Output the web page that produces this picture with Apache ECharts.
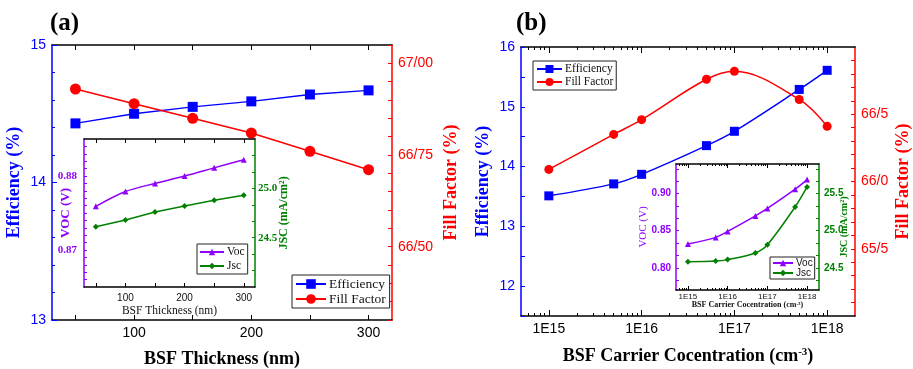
<!DOCTYPE html>
<html>
<head>
<meta charset="utf-8">
<script src="https://cdn.jsdelivr.net/npm/echarts@6/dist/echarts.min.js"></script>
<style>
  html, body { margin: 0; padding: 0; background: #fff; }
  #chart { width: 913px; height: 369px; }
</style>
</head>
<body>
<div id="chart"></div>
<script>
// ---- Panel (a): back-surface-field thickness sweep ----
const thickness = [50, 100, 150, 200, 250, 300];                    // nm
const efficiencyA = [14.43, 14.50, 14.55, 14.59, 14.64, 14.67];      // %
const fillFactorA = [66.93, 66.89, 66.85, 66.81, 66.76, 66.71];      // %
const vocA = [0.8759, 0.8779, 0.8790, 0.8800, 0.8811, 0.8822];       // V
const jscA = [24.61, 24.68, 24.76, 24.82, 24.88, 24.93];             // mA/cm2
const thicknessTickLabels = [100, 200, 300];

// ---- Panel (b): back-surface-field doping sweep ----
const concentration = [1e15, 5e15, 1e16, 5e16, 1e17, 5e17, 1e18];    // cm-3
const efficiencyB = [13.51, 13.71, 13.87, 14.35, 14.59, 15.29, 15.61];
const fillFactorB = [66.09, 66.35, 66.46, 66.76, 66.82, 66.61, 66.41];
const vocB = [0.832, 0.841, 0.849, 0.870, 0.880, 0.906, 0.919];
const jscB = [24.58, 24.59, 24.61, 24.70, 24.81, 25.32, 25.59];
const decadeTickLabels = [15, 16, 17, 18];                            // exponents shown as 1E..

const BLUE = '#0000ff', RED = '#ff0000', PURPLE = '#8f00ff', GREEN = '#008000', BLACK = '#000000';
const SERIF = '"Liberation Serif", "Times New Roman", serif';
const SANS = '"Liberation Sans", Arial, sans-serif';

// tick positions helpers
function steps(from, to, step) {
  const out = [];
  for (let v = from; v <= to + step * 1e-6; v += step) out.push(+v.toFixed(6));
  return out;
}
const logMin = 14.7, logMax = 18.3;
const logMinorTicks = [];
for (let n = 14; n <= 18; n++) {
  for (let k = 2; k <= 9; k++) {
    const v = n + Math.log10(k);
    if (v > logMin && v < logMax) logMinorTicks.push(v);
  }
}
const logMajorTicks = decadeTickLabels.slice();
const slashFmt = (digits) => (v) => v.toFixed(digits).replace('.', '/');

function axisBase(color, width) {
  return {
    type: 'value',
    splitLine: { show: false },
    axisLine: { show: true, onZero: false, lineStyle: { color: color, width: width } },
    axisTick: { show: true, inside: true, length: 5, lineStyle: { color: color, width: 1 } },
    nameLocation: 'middle',
    nameMoveOverlap: false
  };
}
function merge(a, b) {
  const out = Object.assign({}, a);
  for (const k in b) {
    if (b[k] && typeof b[k] === 'object' && !Array.isArray(b[k]) && a[k] && typeof a[k] === 'object') {
      out[k] = merge(a[k], b[k]);
    } else out[k] = b[k];
  }
  return out;
}
function titleStyle(color, size, weight, family) {
  return { color: color, fontSize: size, fontWeight: weight || 'bold', fontFamily: family || SERIF };
}
function supName(text, sup, size, weight, family, color) {
  return {
    name: '{t|' + text + '}{s|' + sup + '}{t|)}',
    nameTextStyle: {
      rich: {
        t: { fontSize: size, fontWeight: weight, fontFamily: family, color: color },
        s: { fontSize: Math.round(size * 0.62), fontWeight: weight, fontFamily: family, color: color, verticalAlign: 'top' }
      }
    }
  };
}

const grids = [
  { left: 52, top: 45, width: 340, height: 275 },                       // (a) main
  { left: 84, top: 139, width: 171, height: 148, z: 3 },                // (a) inset
  { left: 521, top: 47, width: 334, height: 269 },                      // (b) main
  { left: 676, top: 164, width: 143, height: 126, z: 3 }                // (b) inset
].map(g => Object.assign({ show: !!g.z, backgroundColor: '#fff', borderWidth: 0, containLabel: false, outerBoundsMode: 'none' }, g));

const xAxes = [
  // 0: (a) main bottom
  merge(axisBase(BLACK, 1.5), {
    gridIndex: 0, position: 'bottom', min: 30, max: 320,
    axisTick: { customValues: thickness },
    axisLabel: { customValues: thicknessTickLabels, color: BLACK, fontSize: 14, fontFamily: SANS, margin: 6 },
    name: 'BSF Thickness (nm)', nameGap: 30, nameTextStyle: titleStyle(BLACK, 18)
  }),
  // 1: (a) main top
  merge(axisBase(BLACK, 1.5), {
    gridIndex: 0, position: 'top', min: 30, max: 320,
    axisTick: { customValues: thickness }, axisLabel: { show: false }
  }),
  // 2: (a) inset bottom
  merge(axisBase(BLACK, 1.5), {
    gridIndex: 1, position: 'bottom', min: 30, max: 319, z: 4,
    axisTick: { customValues: thickness, length: 4 },
    axisLabel: { customValues: thicknessTickLabels, color: '#111', fontSize: 10, fontFamily: SANS, margin: 6 },
    name: 'BSF Thickness (nm)', nameGap: 18, nameTextStyle: titleStyle('#111', 11.5, 'normal')
  }),
  // 3: (a) inset top
  merge(axisBase(BLACK, 1.5), {
    gridIndex: 1, position: 'top', min: 30, max: 319, z: 4,
    axisTick: { customValues: thickness, length: 4 }, axisLabel: { show: false }
  }),
  // 4: (b) main bottom, decades
  merge(axisBase(BLACK, 1.5), Object.assign({
    gridIndex: 2, position: 'bottom', min: logMin, max: logMax,
    axisTick: { customValues: logMajorTicks, length: 6 },
    axisLabel: { customValues: decadeTickLabels, formatter: v => '1E' + Math.round(v), color: BLACK, fontSize: 14, fontFamily: SANS, margin: 6 },
    nameGap: 31
  }, supName('BSF Carrier Cocentration (cm', '-3', 18, 'bold', SERIF, BLACK))),
  // 5: (b) main bottom, minor
  merge(axisBase(BLACK, 1.5), {
    gridIndex: 2, position: 'bottom', min: logMin, max: logMax,
    axisLine: { show: false }, axisTick: { customValues: logMinorTicks, length: 3 }, axisLabel: { show: false }
  }),
  // 6: (b) main top, decades
  merge(axisBase(BLACK, 1.5), {
    gridIndex: 2, position: 'top', min: logMin, max: logMax,
    axisTick: { customValues: logMajorTicks, length: 6 }, axisLabel: { show: false }
  }),
  // 7: (b) main top, minor
  merge(axisBase(BLACK, 1.5), {
    gridIndex: 2, position: 'top', min: logMin, max: logMax,
    axisLine: { show: false }, axisTick: { customValues: logMinorTicks, length: 3 }, axisLabel: { show: false }
  }),
  // 8: (b) inset bottom, decades
  merge(axisBase(BLACK, 1.5), Object.assign({
    gridIndex: 3, position: 'bottom', min: logMin, max: logMax, z: 4,
    axisTick: { customValues: logMajorTicks, length: 4 },
    axisLabel: { customValues: decadeTickLabels, formatter: v => '1E' + Math.round(v), color: '#111', fontSize: 8, fontFamily: SANS, margin: 3 },
    nameGap: 11
  }, supName('BSF Carrier Cocentration (cm', '-3', 8, 'bold', SERIF, '#111'))),
  // 9: (b) inset bottom, minor
  merge(axisBase(BLACK, 1.5), {
    gridIndex: 3, position: 'bottom', min: logMin, max: logMax, z: 4,
    axisLine: { show: false }, axisTick: { customValues: logMinorTicks, length: 2 }, axisLabel: { show: false }
  }),
  // 10: (b) inset top, decades
  merge(axisBase(BLACK, 1.5), {
    gridIndex: 3, position: 'top', min: logMin, max: logMax, z: 4,
    axisTick: { customValues: logMajorTicks, length: 4 }, axisLabel: { show: false }
  }),
  // 11: (b) inset top, minor
  merge(axisBase(BLACK, 1.5), {
    gridIndex: 3, position: 'top', min: logMin, max: logMax, z: 4,
    axisLine: { show: false }, axisTick: { customValues: logMinorTicks, length: 2 }, axisLabel: { show: false }
  })
];

const yAxes = [
  // 0: (a) efficiency
  merge(axisBase(BLUE, 1.5), {
    gridIndex: 0, position: 'left', min: 13, max: 15, interval: 1,
    minorTick: { show: true, splitNumber: 5, length: 3, lineStyle: { color: BLUE } },
    axisLabel: { color: BLUE, fontSize: 14, fontFamily: SANS, margin: 6 },
    name: 'Efficiency (%)', nameRotate: 90, nameGap: 29, nameTextStyle: titleStyle(BLUE, 18)
  }),
  // 1: (a) fill factor
  merge(axisBase(RED, 1.5), {
    gridIndex: 0, position: 'right', min: 66.3, max: 67.05,
    axisTick: { customValues: steps(66.3, 67.05, 0.05), length: 4 },
    axisLabel: { customValues: [66.5, 66.75, 67.0], formatter: slashFmt(2), color: RED, fontSize: 14, fontFamily: SANS, margin: 6 },
    name: 'Fill Factor (%)', nameRotate: 90, nameGap: 50, nameTextStyle: titleStyle(RED, 18)
  }),
  // 2: (a) inset Voc
  merge(axisBase(PURPLE, 1.5), {
    gridIndex: 1, position: 'left', min: 0.865, max: 0.885, z: 4,
    axisTick: { customValues: steps(0.866, 0.884, 0.001), length: 3 },
    axisLabel: { customValues: [0.87, 0.88], formatter: v => v.toFixed(2), color: PURPLE, fontSize: 11, fontWeight: 'bold', fontFamily: SERIF, margin: 7 },
    name: 'VOC (V)', nameRotate: 90, nameGap: 12, nameTextStyle: titleStyle(PURPLE, 13)
  }),
  // 3: (a) inset Jsc
  merge(axisBase(GREEN, 1.5), {
    gridIndex: 1, position: 'right', min: 24.0, max: 25.5, z: 4,
    axisTick: { customValues: steps(24.0 + 0.5 / 3, 25.4, 0.5 / 3), length: 3 },
    axisLabel: { customValues: [24.5, 25.0], formatter: v => v.toFixed(1), color: GREEN, fontSize: 11, fontWeight: 'bold', fontFamily: SERIF, margin: 3 },
    name: 'JSC (mA/cm²)', nameRotate: 90, nameGap: 23, nameTextStyle: titleStyle(GREEN, 12)
  }),
  // 4: (b) efficiency
  merge(axisBase(BLUE, 1.5), {
    gridIndex: 2, position: 'left', min: 11.5, max: 16, interval: 0.5,
    axisTick: { length: 4 },
    axisLabel: { customValues: [12, 13, 14, 15, 16], color: BLUE, fontSize: 14, fontFamily: SANS, margin: 6 },
    name: 'Efficiency (%)', nameRotate: 90, nameGap: 29, nameTextStyle: titleStyle(BLUE, 18)
  }),
  // 5: (b) fill factor
  merge(axisBase(RED, 1.5), {
    gridIndex: 2, position: 'right', min: 65, max: 67,
    axisTick: { customValues: steps(65.1, 66.9, 0.1), length: 4 },
    axisLabel: { customValues: [65.5, 66.0, 66.5], formatter: slashFmt(1), color: RED, fontSize: 14, fontFamily: SANS, margin: 6 },
    name: 'Fill Factor (%)', nameRotate: 90, nameGap: 39, nameTextStyle: titleStyle(RED, 18)
  }),
  // 6: (b) inset Voc
  merge(axisBase(PURPLE, 1.5), {
    gridIndex: 3, position: 'left', min: 0.77, max: 0.94, z: 4,
    axisTick: { customValues: steps(0.8 - 0.05 / 3, 0.94, 0.05 / 3), length: 3 },
    axisLabel: { customValues: [0.80, 0.85, 0.90], formatter: v => v.toFixed(2), color: PURPLE, fontSize: 10, fontWeight: 'bold', fontFamily: SANS, margin: 5 },
    name: 'VOC (V)', nameRotate: 90, nameGap: 27, nameTextStyle: titleStyle(PURPLE, 11, 'normal')
  }),
  // 7: (b) inset Jsc
  merge(axisBase(GREEN, 1.5), {
    gridIndex: 3, position: 'right', min: 24.2, max: 25.9, z: 4,
    axisTick: { customValues: steps(24.5 - 0.5 / 3, 25.9, 0.5 / 3), length: 3 },
    axisLabel: { customValues: [24.5, 25.0, 25.5], formatter: v => v.toFixed(1), color: GREEN, fontSize: 10, fontWeight: 'bold', fontFamily: SANS, margin: 5 },
    name: 'JSC (mA/cm²)', nameRotate: 90, nameGap: 20, nameTextStyle: titleStyle(GREEN, 10)
  })
];

function lineSeries(name, xs, ys, xi, yi, color, symbol, size, smooth, z) {
  return {
    name: name, type: 'line', xAxisIndex: xi, yAxisIndex: yi,
    data: xs.map((x, i) => [x, ys[i]]),
    symbol: symbol, symbolSize: size, smooth: smooth || false,
    lineStyle: { color: color, width: 1.5 }, itemStyle: { color: color },
    z: z || 2, animation: false
  };
}
const logConc = concentration.map(c => Math.log10(c));

const series = [
  lineSeries('Efficiency', thickness, efficiencyA, 0, 0, BLUE, 'rect', 10),
  lineSeries('Fill Factor', thickness, fillFactorA, 0, 1, RED, 'circle', 11),
  lineSeries('Voc', thickness, vocA, 2, 2, PURPLE, 'triangle', 6, 0.3, 5),
  lineSeries('Jsc', thickness, jscA, 2, 3, GREEN, 'diamond', 6, false, 5),
  lineSeries('Efficiency', logConc, efficiencyB, 4, 4, BLUE, 'rect', 9, 0.35),
  lineSeries('Fill Factor', logConc, fillFactorB, 4, 5, RED, 'circle', 9, 0.35),
  lineSeries('Voc', logConc, vocB, 8, 6, PURPLE, 'triangle', 6, 0.3, 5),
  lineSeries('Jsc', logConc, jscB, 8, 7, GREEN, 'diamond', 6, 0.3, 5)
];

function legendBox(names, left, top, font, size, iconW, iconH, gap, pad) {
  return {
    data: names, left: left, top: top, orient: 'vertical', selectedMode: false,
    itemWidth: iconW, itemHeight: iconH, itemGap: gap, padding: pad,
    borderColor: '#222', borderWidth: 1, backgroundColor: '#fff', z: 6,
    textStyle: { fontFamily: font, fontSize: size, color: '#111', padding: [0, 0, 0, -2] }
  };
}

const option = {
  animation: false,
  backgroundColor: '#fff',
  grid: grids,
  xAxis: xAxes,
  yAxis: yAxes,
  series: series,
  legend: [
    legendBox(['Efficiency', 'Fill Factor'], 292, 275, SERIF, 13.5, 30, 12, 1, [2, 4, 2, 3]),
    legendBox(['Efficiency', 'Fill Factor'], 533, 61, SERIF, 11.5, 25, 10, 1, [2, 3, 2, 3]),
    legendBox(['Voc', 'Jsc'], 197, 244, SERIF, 11.5, 24, 8, 2, [2, 3, 2, 2]),
    legendBox(['Voc', 'Jsc'], 770, 257, SANS, 10, 20, 8, 0, [1, 2, 1, 2])
  ],
  graphic: [
    { type: 'text', left: 50, top: 11, style: { text: '(a)', font: 'bold 25px ' + SERIF, fill: BLACK } },
    { type: 'text', left: 516, top: 11, style: { text: '(b)', font: 'bold 25px ' + SERIF, fill: BLACK } }
  ]
};

const chart = echarts.init(document.getElementById('chart'), null, { renderer: 'canvas' });
chart.setOption(option);
</script>
</body>
</html>
